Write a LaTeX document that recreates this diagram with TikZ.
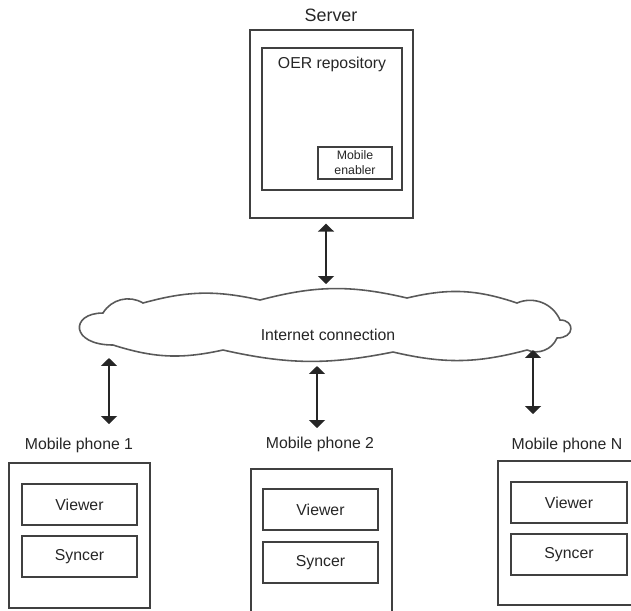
\documentclass[tikz,border=0pt]{standalone}
\usepackage{fontspec}
\setmainfont{Liberation Sans}
\usetikzlibrary{arrows.meta,shadows}

\begin{document}
\begin{tikzpicture}[x=0.02cm,y=-0.02cm]
\tikzstyle{box}=[draw=black!75,line width=0.8pt,fill=white,inner sep=0pt,
  drop shadow={opacity=0.25,shadow xshift=0.7pt,shadow yshift=-0.7pt}]
\tikzstyle{lbl}=[text=black!85,font=\fontsize{9}{10}\selectfont]
\tikzstyle{link}=[{Triangle[width=9pt,length=4.5pt]}-{Triangle[width=9pt,length=4.5pt]},line width=1.2pt,black!85]
\useasboundingbox (0,0) rectangle (631,610);
\clip (0,0) rectangle (631,610);
% server
\node[lbl,font=\fontsize{10.2}{12}\selectfont] (S_l) at (331,15) {Server};
\node[box,minimum width=3.26cm,minimum height=3.76cm] (Srv) at (331.5,124) {};
\node[box,minimum width=2.8cm,minimum height=2.84cm] (Rep) at (332,119) {};
\node[lbl] (Rep_l) at (332,64) {OER repository};
\node[box,minimum width=1.48cm,minimum height=0.64cm,align=center,text=black!85,
  font=\fontsize{7}{8.5}\selectfont] (Enb) at (355,163) {Mobile\\enabler};
% cloud
\draw[draw=black!65,line width=0.9pt,fill=white]
  (103,313) to[bend left=45] (143,303) to[bend left=14] (260,300)
  to[bend left=14] (407,298) to[bend left=16] (517,303)
  to[bend left=45] (560,320) .. controls (575,320) and (575,338) .. (557,338)
  to[bend left=45] (527,350) to[bend left=14] (393,352)
  to[bend left=12] (223,350) to[bend left=15] (113,345)
  .. controls (70,345) and (70,313) .. (103,313) -- cycle;
\node[lbl] (Net) at (328,335) {Internet connection};
\coordinate (N_0) at (326,284);
\coordinate (N_1) at (109,358);
\coordinate (N_2) at (317,366);
\coordinate (N_3) at (533,350);
\coordinate (T_1) at (109,424);
\coordinate (T_2) at (317,428);
\coordinate (T_3) at (533,414);
% phones
\node[lbl] (L_1) at (79,445) {Mobile phone 1};
\node[box,minimum width=2.82cm,minimum height=2.9cm] (P_1) at (79.5,535.5) {};
\node[box,lbl,minimum width=2.3cm,minimum height=0.82cm] (V_1) at (79.5,504.5) {Viewer};
\node[box,lbl,minimum width=2.3cm,minimum height=0.82cm] (Y_1) at (79.5,556.5) {Syncer};
\node[lbl] (L_2) at (320,444) {Mobile phone 2};
\node[box,minimum width=2.82cm,minimum height=3.2cm] (P_2) at (321.5,549) {};
\node[box,lbl,minimum width=2.3cm,minimum height=0.82cm] (V_2) at (320.5,509.5) {Viewer};
\node[box,lbl,minimum width=2.3cm,minimum height=0.82cm] (Y_2) at (320.5,562.5) {Syncer};
\node[lbl] (L_3) at (567,445) {Mobile phone N};
\node[box,minimum width=2.82cm,minimum height=2.88cm] (P_3) at (568.5,533) {};
\node[box,lbl,minimum width=2.32cm,minimum height=0.82cm] (V_3) at (569,502.5) {Viewer};
\node[box,lbl,minimum width=2.32cm,minimum height=0.82cm] (Y_3) at (569,554.5) {Syncer};
% links
\draw[link] ([yshift=-0.1cm]Srv.south -| N_0) -- (N_0);
\draw[link] (N_1) -- (T_1);
\draw[link] (N_2) -- (T_2);
\draw[link] (N_3) -- (T_3);
\end{tikzpicture}
\end{document}
